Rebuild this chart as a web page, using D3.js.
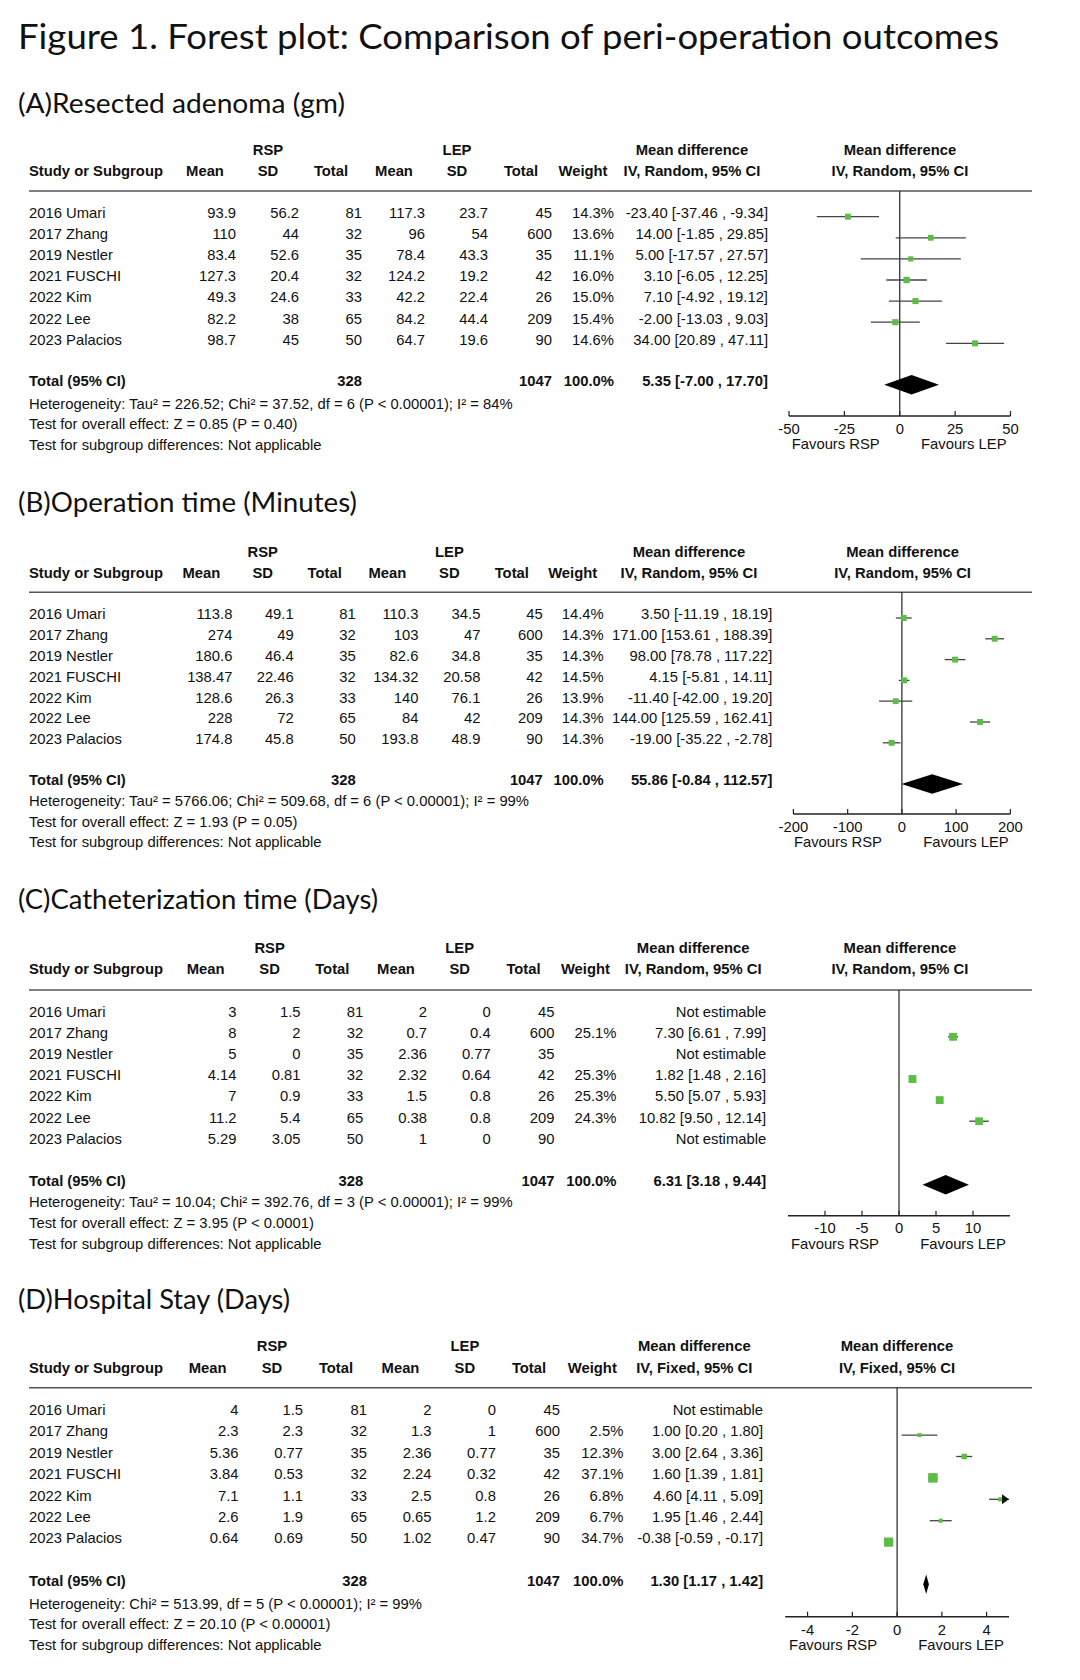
<!DOCTYPE html>
<html><head><meta charset="utf-8">
<script src="https://cdn.jsdelivr.net/npm/d3@7"></script>
<style>
html,body{margin:0;padding:0;background:#fff;}
svg text{font-family:"Liberation Sans",Arial,Helvetica,sans-serif;fill:#111;}
</style></head>
<body>
<script>
// ---------- DATA ----------
const studies = ["2016 Umari","2017 Zhang","2019 Nestler","2021 FUSCHI","2022 Kim","2022 Lee","2023 Palacios"];
const rspN = [81,32,35,32,33,65,50];
const lepN = [45,600,35,42,26,209,90];
const rspTotal = 328, lepTotal = 1047;

// (A) Resected adenoma (gm)
const rspMeanA = [93.9,110,83.4,127.3,49.3,82.2,98.7];
const rspSdA   = [56.2,44,52.6,20.4,24.6,38,45];
const lepMeanA = [117.3,96,78.4,124.2,42.2,84.2,64.7];
const lepSdA   = [23.7,54,43.3,19.2,22.4,44.4,19.6];
const weightA  = [14.3,13.6,11.1,16.0,15.0,15.4,14.6];
const mdA      = [-23.40,14.00,5.00,3.10,7.10,-2.00,34.00];
const loA      = [-37.46,-1.85,-17.57,-6.05,-4.92,-13.03,20.89];
const hiA      = [-9.34,29.85,27.57,12.25,19.12,9.03,47.11];
const totalA   = [5.35,-7.00,17.70];
const ticksA   = [-50,-25,0,25,50];

// (B) Operation time (Minutes)
const rspMeanB = [113.8,274,180.6,138.47,128.6,228,174.8];
const rspSdB   = [49.1,49,46.4,22.46,26.3,72,45.8];
const lepMeanB = [110.3,103,82.6,134.32,140,84,193.8];
const lepSdB   = [34.5,47,34.8,20.58,76.1,42,48.9];
const weightB  = [14.4,14.3,14.3,14.5,13.9,14.3,14.3];
const mdB      = [3.50,171.00,98.00,4.15,-11.40,144.00,-19.00];
const loB      = [-11.19,153.61,78.78,-5.81,-42.00,125.59,-35.22];
const hiB      = [18.19,188.39,117.22,14.11,19.20,162.41,-2.78];
const totalB   = [55.86,-0.84,112.57];
const ticksB   = [-200,-100,0,100,200];

// (C) Catheterization time (Days)
const rspMeanC = [3,8,5,4.14,7,11.2,5.29];
const rspSdC   = [1.5,2,0,0.81,0.9,5.4,3.05];
const lepMeanC = [2,0.7,2.36,2.32,1.5,0.38,1];
const lepSdC   = [0,0.4,0.77,0.64,0.8,0.8,0];
const weightC  = [null,25.1,null,25.3,25.3,24.3,null];
const mdC      = [null,7.30,null,1.82,5.50,10.82,null];
const loC      = [null,6.61,null,1.48,5.07,9.50,null];
const hiC      = [null,7.99,null,2.16,5.93,12.14,null];
const totalC   = [6.31,3.18,9.44];
const ticksC   = [-10,-5,0,5,10];

// (D) Hospital Stay (Days)
const rspMeanD = [4,2.3,5.36,3.84,7.1,2.6,0.64];
const rspSdD   = [1.5,2.3,0.77,0.53,1.1,1.9,0.69];
const lepMeanD = [2,1.3,2.36,2.24,2.5,0.65,1.02];
const lepSdD   = [0,1,0.77,0.32,0.8,1.2,0.47];
const weightD  = [null,2.5,12.3,37.1,6.8,6.7,34.7];
const mdD      = [null,1.00,3.00,1.60,4.60,1.95,-0.38];
const loD      = [null,0.20,2.64,1.39,4.11,1.46,-0.59];
const hiD      = [null,1.80,3.36,1.81,5.09,2.44,-0.17];
const totalD   = [1.30,1.17,1.42];
const ticksD   = [-4,-2,0,2,4];

const titles = ["(A)Resected adenoma (gm)","(B)Operation time (Minutes)","(C)Catheterization time (Days)","(D)Hospital Stay (Days)"];
const methods = ["IV, Random, 95% CI","IV, Random, 95% CI","IV, Random, 95% CI","IV, Fixed, 95% CI"];
const hets = [
 "Heterogeneity: Tau² = 226.52; Chi² = 37.52, df = 6 (P < 0.00001); I² = 84%",
 "Heterogeneity: Tau² = 5766.06; Chi² = 509.68, df = 6 (P < 0.00001); I² = 99%",
 "Heterogeneity: Tau² = 10.04; Chi² = 392.76, df = 3 (P < 0.00001); I² = 99%",
 "Heterogeneity: Chi² = 513.99, df = 5 (P < 0.00001); I² = 99%"];
const effects = [
 "Test for overall effect: Z = 0.85 (P = 0.40)",
 "Test for overall effect: Z = 1.93 (P = 0.05)",
 "Test for overall effect: Z = 3.95 (P < 0.0001)",
 "Test for overall effect: Z = 20.10 (P < 0.00001)"];
const subgroupText = "Test for subgroup differences: Not applicable";
const colHeaders = ["Mean","SD","Total","Mean","SD","Total","Weight"];

const panelsData = [
 {rm:rspMeanA,rs:rspSdA,lm:lepMeanA,ls:lepSdA,w:weightA,md:mdA,lo:loA,hi:hiA,tot:totalA,ticks:ticksA,dom:[-50,50]},
 {rm:rspMeanB,rs:rspSdB,lm:lepMeanB,ls:lepSdB,w:weightB,md:mdB,lo:loB,hi:hiB,tot:totalB,ticks:ticksB,dom:[-200,200]},
 {rm:rspMeanC,rs:rspSdC,lm:lepMeanC,ls:lepSdC,w:weightC,md:mdC,lo:loC,hi:hiC,tot:totalC,ticks:ticksC,dom:[-15,15]},
 {rm:rspMeanD,rs:rspSdD,lm:lepMeanD,ls:lepSdD,w:weightD,md:mdD,lo:loD,hi:hiD,tot:totalD,ticks:ticksD,dom:[-5,5]}
];

// ---------- LAYOUT ----------
const layouts = [
 {headY:112.5, headW:327, cols:[236,299,362,425,488,552,614], ciR:768, ciH:692, plotH:900,
  h1:150, h2:170.7, line:191, row0:212.7, step:21.1, total:380.7, foot:[403.3,424,444.7], axis:416, tickY:428.3, favY:444, range:[789,1010.5]},
 {headY:512.3, headW:339, cols:[232.4,293.7,355.7,418.4,480.4,542.8,603.7], ciR:772.4, ciH:689, plotH:902.6,
  h1:551.7, h2:572.7, line:592.3, row0:614, step:20.8, total:780, foot:[800.7,821.3,841.7], axis:814, tickY:826.7, favY:841.7, range:[793.4,1010.4]},
 {headY:909, headW:360, cols:[236.6,300.6,363.3,427,490.7,554.5,616.4], ciR:766.2, ciH:693.2, plotH:899.9,
  h1:947.3, h2:969, line:990, row0:1011.7, step:21.1, total:1180.7, foot:[1201.7,1223,1244], axis:1215.7, tickY:1227.7, favY:1243.3, range:[788,1010]},
 {headY:1308.7, headW:272, cols:[238.6,303,367,431.5,495.9,560,623.3], ciR:763.1, ciH:694.3, plotH:897,
  h1:1345.7, h2:1367.3, line:1387.7, row0:1409.7, step:21.4, total:1580.3, foot:[1603.3,1624,1645], axis:1616.7, tickY:1630, favY:1645, range:[785.2,1009]}
];

const W = 1080, H = 1680, FS = 14.8, DY = 5.3;
const svg = d3.select("body").append("svg").attr("width",W).attr("height",H);
const green = "#5cbd45";
const sizeScale = d3.scaleSqrt().domain([0,100]).range([0,15.6]);
const f2 = v => v.toFixed(2);

svg.append("text").attr("x",18).attr("y",49)
  .attr("textLength",981).attr("lengthAdjust","spacingAndGlyphs")
  .style("font-family","Lato, 'Open Sans', sans-serif").style("font-size","35px")
  .text("Figure 1. Forest plot: Comparison of peri-operation outcomes");

panelsData.forEach((d,p) => {
  const L = layouts[p];
  const g = svg.append("g");
  const txt = (x,y,s,anchor,bold) => g.append("text").attr("x",x).attr("y",y+DY)
     .attr("text-anchor",anchor||"start").style("font-size",FS+"px")
     .style("font-weight",bold?"bold":"normal").text(s);

  g.append("text").attr("x",18).attr("y",L.headY)
   .attr("textLength",L.headW).attr("lengthAdjust","spacingAndGlyphs")
   .style("font-family","Lato, 'Open Sans', sans-serif").style("font-size","27px")
   .text(titles[p]);

  // headers
  txt(L.cols[1]-31, L.h1, "RSP", "middle", true);
  txt(L.cols[4]-31, L.h1, "LEP", "middle", true);
  txt(L.ciH, L.h1, "Mean difference", "middle", true);
  txt(L.plotH, L.h1, "Mean difference", "middle", true);
  txt(29, L.h2, "Study or Subgroup", "start", true);
  colHeaders.forEach((h,i) => txt(L.cols[i]-31, L.h2, h, "middle", true));
  txt(L.ciH, L.h2, methods[p], "middle", true);
  txt(L.plotH, L.h2, methods[p], "middle", true);

  g.append("line").attr("x1",29).attr("x2",1032).attr("y1",L.line).attr("y2",L.line)
   .attr("stroke","#555").attr("stroke-width",1.6);

  const x = d3.scaleLinear().domain(d.dom).range(L.range);
  const rowY = i => L.row0 + i*L.step;

  studies.forEach((s,i) => {
    const y = rowY(i);
    txt(29, y, s);
    const vals = [d.rm[i], d.rs[i], rspN[i], d.lm[i], d.ls[i], lepN[i]];
    vals.forEach((v,k) => txt(L.cols[k], y, String(v), "end"));
    if (d.w[i] != null) {
      txt(L.cols[6], y, d.w[i].toFixed(1)+"%", "end");
      txt(L.ciR, y, `${f2(d.md[i])} [${f2(d.lo[i])} , ${f2(d.hi[i])}]`, "end");
    } else {
      txt(L.ciR, y, "Not estimable", "end");
    }
  });

  // total
  txt(29, L.total, "Total (95% CI)", "start", true);
  txt(L.cols[2], L.total, String(rspTotal), "end", true);
  txt(L.cols[5], L.total, String(lepTotal), "end", true);
  txt(L.cols[6], L.total, "100.0%", "end", true);
  txt(L.ciR, L.total, `${f2(d.tot[0])} [${f2(d.tot[1])} , ${f2(d.tot[2])}]`, "end", true);
  txt(29, L.foot[0], hets[p]);
  txt(29, L.foot[1], effects[p]);
  txt(29, L.foot[2], subgroupText);

  // forest plot
  const x0 = x(0);
  g.append("line").attr("x1",x0).attr("x2",x0).attr("y1",L.line).attr("y2",L.axis)
   .attr("stroke","#222").attr("stroke-width",1.2);
  g.append("line").attr("x1",L.range[0]).attr("x2",L.range[1]).attr("y1",L.axis).attr("y2",L.axis)
   .attr("stroke","#222").attr("stroke-width",1.4);
  d.ticks.forEach(t => {
    g.append("line").attr("x1",x(t)).attr("x2",x(t)).attr("y1",L.axis-5).attr("y2",L.axis)
     .attr("stroke","#222").attr("stroke-width",1.2);
    txt(x(t), L.tickY, String(t), "middle");
  });
  txt(x0-64, L.favY, "Favours RSP", "middle");
  txt(x0+64, L.favY, "Favours LEP", "middle");

  const maxV = d.dom[1], minV = d.dom[0];
  studies.forEach((s,i) => {
    if (d.md[i] == null) return;
    const y = rowY(i) + 4;
    const lo = Math.max(d.lo[i], minV), hi = Math.min(d.hi[i], maxV);
    g.append("line").attr("x1",x(lo)).attr("x2",x(hi)).attr("y1",y).attr("y2",y)
     .attr("stroke","#444").attr("stroke-width",1.3);
    if (d.hi[i] > maxV) {
      const xe = x(maxV);
      g.append("path").attr("d",`M${xe},${y} L${xe-7},${y-5} L${xe-7},${y+5} Z`).attr("fill","#111");
    }
    const sz = Math.max(4, sizeScale(d.w[i]));
    g.append("rect").attr("x",x(d.md[i])-sz/2).attr("y",y-sz/2).attr("width",sz).attr("height",sz)
     .attr("fill",green);
  });

  const yd = L.total + 4;
  g.append("path")
   .attr("d",`M${x(d.tot[1])},${yd} L${x(d.tot[0])},${yd-9.7} L${x(d.tot[2])},${yd} L${x(d.tot[0])},${yd+9.7} Z`)
   .attr("fill","#000");
});
</script>
</body></html>
